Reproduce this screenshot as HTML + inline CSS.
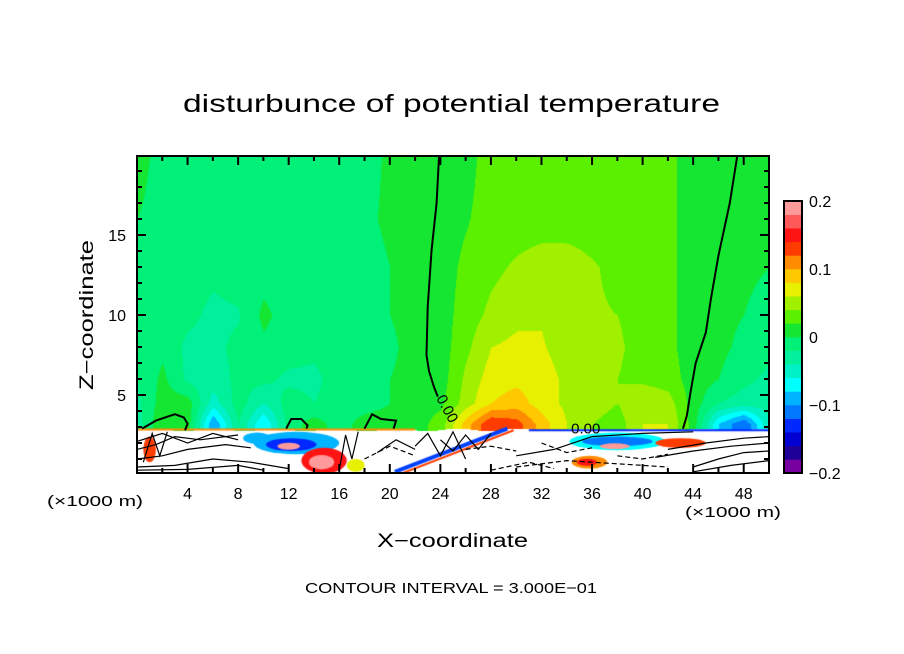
<!DOCTYPE html>
<html><head><meta charset="utf-8"><style>
html,body{margin:0;padding:0;background:#fff;}
#wrap{position:relative;width:904px;height:654px;overflow:hidden;background:#fff;}
canvas{position:absolute;left:0;top:0;}
svg{position:absolute;left:0;top:0;}
text{font-family:"Liberation Sans",sans-serif;fill:#000;}
</style></head><body>
<div id="wrap">
<canvas id="field" width="904" height="654"></canvas>
<svg id="ov" width="904" height="654"></svg>
</div>
<script>
// ---- data ----
const xCols = [0,2,4,6,8,10,12,14,16,18,20,22,24,26,28,30,32,34,36,38,40,42,44,46,48,50];
const zRows = [20,16,13,10,8,6,4.5,3.2];
const row20 = [1,-1,-1,-1,-1,-1,-1,-1,-1,-1,0.5,1,1,1.2,3,3,3,3,3,3,3,2.5,1,1,1,1];
const row16 = [0,-1,-1,-1,-1,-1,-1,-1,-1,-0.5,0.5,1,1,1.8,3,3,3,3,3,3,3,2.5,1,1,1,0.5];
const row13 = [-1,-1,-1,-1.5,-1,-1,-1,-1,-1,-1,0,1,1,2.5,3.5,4.3,5,5,4.2,3.5,3,2.5,1,1,0.5,0];
const row10 = [-1,-1,-1.5,-2.5,-2.2,0.5,-1,-1,-1,-1,0,1,1,3,4.5,5.5,5.8,5,4.2,4,3.5,2.5,1,0.5,0,-1];
const row8  = [-1,-0.5,-2.5,-2.5,-1.5,-0.5,-1,-1.5,-1,-1,-0.5,1,1,3.5,6,6.5,6.2,5,4.8,4.2,3.5,2.5,1,0.5,-0.5,-1.5];
const row6  = [-2,0.5,-2.5,-3,-1.5,-1.5,-2.5,-2.5,-1,-1,0,1,1,4.5,7,7.5,7,5.5,5,4,3.5,3,1,0,-1.5,-2.5];
const row45 = [-2.5,1,1,-5,-1,-4,-1,-2,-1,-1,0,1,1.5,5,8,9,7,5.5,5,4,6,5,1,-2,-3,-3];
const row32 = [-3,2,1,-10,-2,-8,-1,1,-1,1,1,1,3,9,14,13,9,6,4,3,6,6,1,-8,-12,-4];
const rows = [row20,row16,row13,row10,row8,row6,row45,row32];
const binColors = ["#7800a0","#1e0096","#0000d2","#0028ff","#0078ff","#00b4ff","#00ffff","#00f0c8","#00f09c","#00f078",
                   "#14e632","#5af000","#a0f000","#e6f000","#ffc800","#ff8c00","#ff3c00","#ff1414","#ff5a5a","#ff9a9a"];
const cbLabels = ["0.2","0.1","0","\u22120.1","\u22120.2"];
const cbLabelVals = [0.2,0.1,0,-0.1,-0.2];
const xTickLabels = [4,8,12,16,20,24,28,32,36,40,44,48];
const zTickLabels = [5,10,15];
// contour lines (x km, z km)
const contourLeft = [[23.9,20],[23.7,17],[23.3,14],[23.0,10.5],[22.9,7.5],[23.1,6.5],[23.5,5.5],[23.8,4.9]];
const contourRight = [[47.5,20],[46.9,17],[46.0,13.7],[45.4,11],[45.0,8.9],[44.2,7],[43.8,5.2],[43.5,3.7],[43.2,2.9]];
const blobOutlines = [
 [[0.4,2.9],[1.5,3.4],[3.0,3.8],[3.7,3.6],[4.0,3.2],[3.8,2.8]],
 [[11.8,2.9],[12.2,3.5],[13.0,3.5],[13.5,3.1],[13.4,2.9]],
 [[18.0,2.9],[18.6,3.8],[19.3,3.5],[20.5,3.4],[20.3,2.9]]
];
// lower region colored blobs: [x, z, rx, rz, binIndex]
const lowBlobs = [
 [12.6,2.0,3.4,0.7,5],[12.2,1.9,2.0,0.4,3],[12.0,1.8,0.9,0.22,19],
 [14.8,0.9,1.8,0.8,17],[14.6,0.8,1.0,0.45,19],[17.3,0.6,0.7,0.4,13],
 [38.0,2.1,3.8,0.55,6],[38.0,2.1,2.8,0.3,4],[37.8,1.8,1.2,0.18,19],
 [35.8,0.8,1.4,0.4,15],[35.6,0.8,0.8,0.22,17],
 [43.0,2.0,2.0,0.3,16],[1.0,1.6,0.5,0.8,16],[9.5,2.3,1.1,0.35,5]
];
// lower region black contour texture (x km, z km)
const lowLines=[
 [[0,0.5],[3,0.6],[6,1.0],[9,0.8],[12,0.4]],
 [[0,1.0],[2,1.2],[4,1.6],[7,1.9],[9,1.7]],
 [[0,1.6],[1.5,1.9],[3,2.4],[5,2.2],[8,2.5]],
 [[0,0.3],[4,0.35],[8,0.6],[10,0.3]],
 [[0,2.1],[2,2.6],[4,2.0],[6,2.6],[8,2.2]],
 [[44,0.5],[46,1.0],[48,1.4],[50,1.5]],
 [[42,1.6],[45,2.0],[48,2.3],[50,2.4]],
 [[41,1.1],[44,1.5],[47,1.8],[50,2.0]],
 [[44,0.2],[47,0.6],[50,0.9]],
 [[30,1.2],[33,1.6],[36,2.4],[40,2.6],[44,2.7]],
 [[24,2.2],[25,1.5],[26,2.5],[27,1.6],[28,2.6]],
 [[22,1.8],[23,2.6],[24,1.2],[25,2.7],[26,1.0]],
 [[0.5,0.8],[1.2,2.6],[1.8,1.2],[2.4,2.7]],
 [[16,0.3],[16.5,2.5],[17,1.0],[17.5,2.7]],
 [[19,1.4],[20.5,2.2],[22,1.6]]
];
const dashLines=[[[30,0.5],[34,0.9],[38,0.7],[42,0.5]],[[18,1.0],[20,1.8],[22,1.2]],[[32,2.0],[34,1.4],[36,1.7]],
 [[28,0.3],[31,0.8],[33,0.4]],[[38,1.2],[40,1.0],[42,1.3]],[[26,1.6],[28,1.8],[30,1.5]]];
// ---- axes ----
const X0=137, X1=769, ZY0=475, PY0=156, PY1=473;
const sx = x => X0 + x*(X1-X0)/50;
const sz = z => ZY0 - z*16;
const ns="http://www.w3.org/2000/svg";
const ov=document.getElementById('ov');
function mk(tag,attrs,parent){const e=document.createElementNS(ns,tag);for(const k in attrs)e.setAttribute(k,attrs[k]);(parent||ov).appendChild(e);return e;}
function valAt(x,z){
  let zc=Math.min(20,Math.max(3.2,z));
  let i=0; while(i<zRows.length-2 && zc<zRows[i+1]) i++;
  const za=zRows[i], zb=zRows[i+1]; let t=(za-zc)/(za-zb); t=Math.max(0,Math.min(1,t));
  let fx=x/2; let j=Math.min(24,Math.floor(fx)); let u=fx-j;
  const a=rows[i][j]*(1-u)+rows[i][j+1]*u, b=rows[i+1][j]*(1-u)+rows[i+1][j+1]*u;
  return a*(1-t)+b*t;
}
function hex(c){return [parseInt(c.substr(1,2),16),parseInt(c.substr(3,2),16),parseInt(c.substr(5,2),16)];}
const rgb=binColors.map(hex);
const cv=document.getElementById('field'), ctx=cv.getContext('2d');
const img=ctx.createImageData(X1-X0, PY1-PY0);
for(let py=0;py<PY1-PY0;py++){
  const z=(ZY0-(PY0+py))/16;
  for(let px=0;px<X1-X0;px++){
    const x=px*50/(X1-X0); const k=(py*(X1-X0)+px)*4;
    let c=[255,255,255];
    const zb=2.85+0.08*Math.sin(x*1.3);
    if(z>zb){ const v=valAt(x,z); let bi=Math.floor((v+20)/2); bi=Math.max(0,Math.min(19,bi)); c=rgb[bi]; }
    img.data[k]=c[0];img.data[k+1]=c[1];img.data[k+2]=c[2];img.data[k+3]=255;
  }
}
ctx.putImageData(img,X0,PY0);
ctx.save(); ctx.beginPath(); ctx.rect(X0,PY0,X1-X0,PY1-PY0); ctx.clip();
lowBlobs.forEach(b=>{ctx.fillStyle=binColors[b[4]];ctx.beginPath();ctx.ellipse(sx(b[0]),sz(b[1]),b[2]*12.64,b[3]*16,0,0,Math.PI*2);ctx.fill();});
ctx.lineWidth=4; ctx.strokeStyle="#0040ff"; ctx.beginPath(); ctx.moveTo(sx(20.4),sz(0.2)); ctx.lineTo(sx(29.3),sz(2.9)); ctx.stroke();
ctx.lineWidth=2; ctx.strokeStyle="#ff3c00"; ctx.beginPath(); ctx.moveTo(sx(20.8),sz(0.05)); ctx.lineTo(sx(29.8),sz(2.8)); ctx.stroke();
ctx.lineWidth=2; ctx.strokeStyle="#ff8c00"; ctx.beginPath(); ctx.moveTo(sx(0),sz(2.85)); ctx.lineTo(sx(22),sz(2.85)); ctx.stroke();
ctx.strokeStyle="#0028ff"; ctx.beginPath(); ctx.moveTo(sx(31),sz(2.8)); ctx.lineTo(sx(50),sz(2.8)); ctx.stroke();
ctx.restore();
// ---- overlay ----
const g=mk('g',{});
function poly(pts,attrs,name){const e=mk('polyline',Object.assign({points:pts.map(p=>sx(p[0]).toFixed(1)+','+sz(p[1]).toFixed(1)).join(' '),fill:'none',stroke:'#000','stroke-width':2},attrs),g);return e;}
poly(contourLeft,{},'zero-contour-left');
poly(contourRight,{},'zero-contour-right');
blobOutlines.forEach(b=>poly(b,{},'closed-contour'));
lowLines.forEach((l,i)=>poly(l,{'stroke-width':1.2},'lower-contour-'+i));
dashLines.forEach((l,i)=>poly(l,{'stroke-width':1.2,'stroke-dasharray':'5,3'},'negative-contour-'+i));
const lbl1=mk('text',{x:sx(24.2),y:sz(4.0),'font-size':15,transform:`rotate(62 ${sx(24.2)} ${sz(4.0)})`,'text-anchor':'middle'},g);lbl1.textContent='0.00';

const lbl2=mk('text',{x:sx(35.5),y:sz(2.6),'font-size':15,'text-anchor':'middle'},g);lbl2.textContent='0.00';

const fr=mk('rect',{x:X0,y:PY0,width:X1-X0,height:PY1-PY0,fill:'none',stroke:'#000','stroke-width':2});

const tk=mk('g',{});
for(let x=2;x<50;x+=2){const L=(x%4===0)?9:5;
 mk('line',{x1:sx(x),x2:sx(x),y1:PY1,y2:PY1-L,stroke:'#000','stroke-width':2},tk);
 mk('line',{x1:sx(x),x2:sx(x),y1:PY0,y2:PY0+L,stroke:'#000','stroke-width':2},tk);}
for(let z=1;z<20;z++){const L=(z%5===0)?9:5;
 mk('line',{x1:X0,x2:X0+L,y1:sz(z),y2:sz(z),stroke:'#000','stroke-width':2},tk);
 mk('line',{x1:X1,x2:X1-L,y1:sz(z),y2:sz(z),stroke:'#000','stroke-width':2},tk);}
const xa=mk('g',{});
xTickLabels.forEach(v=>{const t=mk('text',{x:sx(v),y:499,'font-size':16,'text-anchor':'middle'},xa);t.textContent=v;
 });
const za=mk('g',{});
zTickLabels.forEach(v=>{const t=mk('text',{x:126,y:sz(v)+6,'font-size':16,'text-anchor':'end'},za);t.textContent=v;
 });
const cb=mk('g',{});
const CB0=201, CB1=473, bh=(CB1-CB0)/20;
binColors.forEach((c,i)=>{const r=mk('rect',{x:784,y:CB1-(i+1)*bh,width:18,height:bh+0.3,fill:c},cb);
 });
mk('rect',{x:784,y:CB0,width:18,height:CB1-CB0,fill:'none',stroke:'#000','stroke-width':2},cb);
cbLabels.forEach((s,i)=>{const y=CB1-(cbLabelVals[i]+0.2)/0.4*(CB1-CB0);const t=mk('text',{x:809,y:y+6,'font-size':16},cb);t.textContent=s;
 });
</script>
<svg width="904" height="654" style="position:absolute;left:0;top:0;pointer-events:none">
<text x="183" y="112" font-size="25" textLength="537" lengthAdjust="spacingAndGlyphs">disturbunce of potential temperature</text>
<text x="0" y="0" font-size="19" textLength="150" lengthAdjust="spacingAndGlyphs" transform="translate(93 390) rotate(-90)">Z−coordinate</text>
<text x="377" y="547" font-size="19" textLength="151" lengthAdjust="spacingAndGlyphs">X−coordinate</text>
<text x="47" y="506" font-size="15" textLength="96" lengthAdjust="spacingAndGlyphs">(×1000 m)</text>
<text x="685" y="517" font-size="15" textLength="96" lengthAdjust="spacingAndGlyphs">(×1000 m)</text>
<text x="305" y="593" font-size="15" textLength="292" lengthAdjust="spacingAndGlyphs">CONTOUR INTERVAL = 3.000E−01</text>
</svg>
</body></html>
